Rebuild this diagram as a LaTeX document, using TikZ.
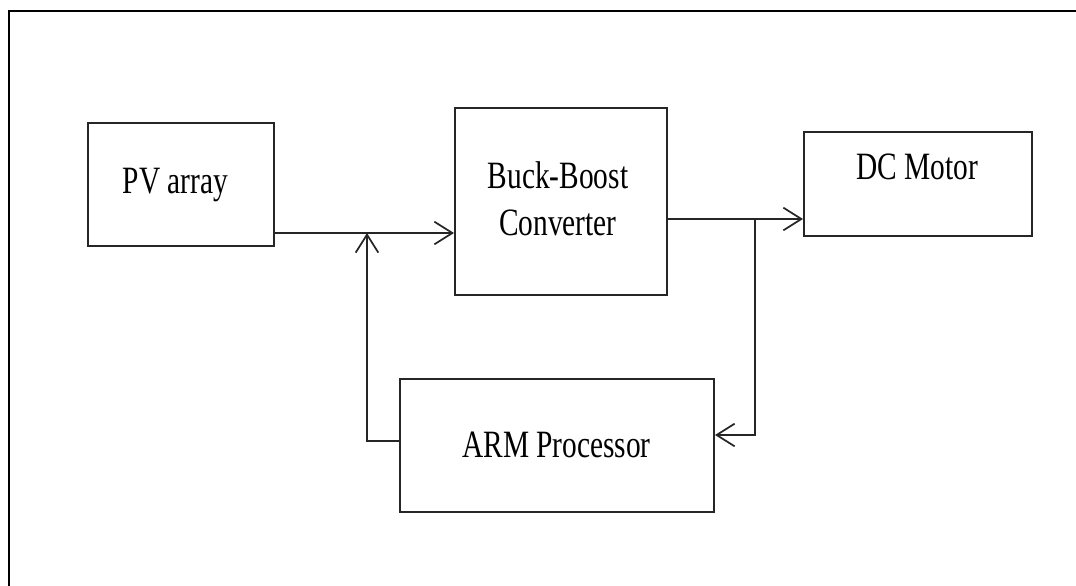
\documentclass[tikz,border=0pt]{standalone}
\usepackage{fontspec}
\setmainfont{Liberation Serif}[FakeStretch=0.76]
\usetikzlibrary{arrows.meta}
\begin{document}
\begin{tikzpicture}[x=0.75pt,y=-0.75pt,
  blk/.style={draw=black!85,line width=1.5pt,inner sep=0pt},
  lbl/.style={font=\fontsize{29pt}{35pt}\selectfont,inner sep=0pt,anchor=base,align=center},
  arr/.style={draw=black!85,line width=1.3pt,-{Straight Barb[length=13.5pt,width=17pt,line width=1.3pt]}}]
\useasboundingbox (0,0) rectangle (1076,586);
\draw[line width=1.2pt] (1076,11) -- (9,11) -- (9,586);
% boxes
\node[blk,minimum width=186*0.75pt,minimum height=123*0.75pt] (pv) at (181,184.5) {};
\node[blk,minimum width=212*0.75pt,minimum height=187*0.75pt] (bbc) at (561,201.5) {};
\node[blk,minimum width=228*0.75pt,minimum height=104*0.75pt] (dc) at (918,184) {};
\node[blk,minimum width=314*0.75pt,minimum height=133*0.75pt] (arm) at (557,445.5) {};
% labels
\node[lbl] (pvt) at (175.5,193) {PV array};
\node[lbl] (bbct) at (558,235) {Buck-Boost\\Converter};
\node[lbl] (dct) at (917,179) {DC Motor};
\node[lbl] (armt) at (556.5,457) {ARM Processor};
% junctions
\coordinate (j1) at (367,233);
\coordinate (j2) at (755,219);
\coordinate (fbl) at (400,441);
\coordinate (fbr) at (714,435);
% connectors
\draw[arr] (pv.east |- j1) -- (bbc.west |- j1);
\draw[arr] (arm.west |- fbl) -| (j1);
\draw[arr] (bbc.east |- j2) -- (dc.west |- j2);
\draw[arr] (j2) |- (arm.east |- fbr);
\end{tikzpicture}
\end{document}
